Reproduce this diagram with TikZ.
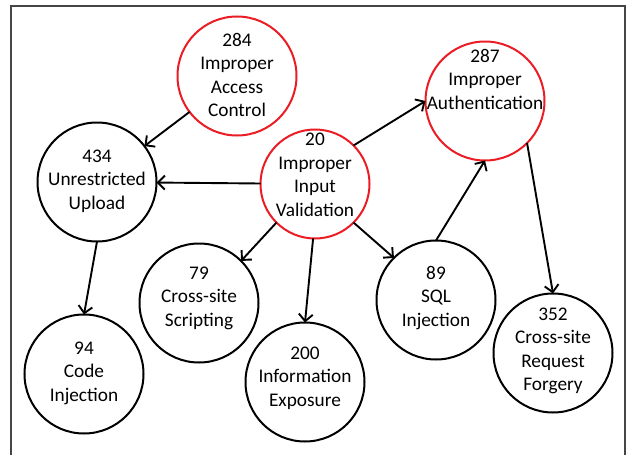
\documentclass[tikz,border=0pt]{standalone}
\usepackage{fontspec}
\setmainfont{Carlito}
\usetikzlibrary{arrows.meta}
\definecolor{bubred}{RGB}{235,28,36}
\definecolor{framegray}{RGB}{70,70,70}
\begin{document}
\begin{tikzpicture}[x=1pt,y=-1pt,
  bub/.style={circle,draw=#1,line width=2pt,minimum size=119pt,inner sep=0pt,outer sep=0pt},
  lbl/.style={align=center,font=\fontsize{19.3}{23.5}\selectfont,inner sep=0pt},
  link/.style={line width=1.9pt,-{Straight Barb[length=7pt,width=14pt]}}
]
\useasboundingbox (0,0) rectangle (627,455);
% open frame around the graph
\draw[line width=1.2pt,framegray] (11,455) -- (11,6) -- (625,6) -- (625,455);

% weakness bubbles
\node[bub=bubred] (n284) at (237,76) {};
\node[bub=black]  (n434) at (97,182) {};
\node[bub=bubred,minimum size=109pt] (n20) at (315,184) {};
\node[bub=bubred] (n287) at (485,101) {};
\node[bub=black]  (n79)  at (199,303) {};
\node[bub=black]  (n94)  at (84,374) {};
\node[bub=black]  (n200) at (305,382) {};
\node[bub=black]  (n89)  at (436,300) {};
\node[bub=black]  (n352) at (553,353) {};

% captions
\node[lbl] (t284) at ([yshift=1pt]n284.center) {284\\Improper\\Access\\Control};
\node[lbl] (t434) at ([yshift=1pt]n434.center) {434\\Unrestricted\\Upload};
\node[lbl] (t20)  at ([yshift=9pt]n20.center)  {20\\Improper\\Input\\Validation};
\node[lbl] (t287) at ([yshift=22pt]n287.center) {287\\Improper\\Authentication};
\node[lbl] (t79)  at ([yshift=5pt]n79.center)  {79\\Cross-site\\Scripting};
\node[lbl] (t94)  at ([yshift=1pt]n94.center)  {94\\Code\\Injection};
\node[lbl] (t200) at ([yshift=4pt]n200.center) {200\\Information\\Exposure};
\node[lbl] (t89)  at ([yshift=2pt]n89.center)  {89\\SQL\\Injection};
\node[lbl] (t352) at ([yshift=2pt]n352.center) {352\\Cross-site\\Request\\Forgery};

% relations
\draw[link] (n284) -- (n434);
\draw[link] (n20) -- (n434);
\draw[link] (n20.45) -- (n287.west);
\draw[link] (n20.225) -- (n79.45);
\draw[link] (n20.268) -- (n200.north);
\draw[link] (n20.-45) -- (n89.135);
\draw[link] (n89.north) -- (n287.south);
\draw[link] (n287.-45) -- (n352.north);
\draw[link] (n434.south) -- (n94.north);
\end{tikzpicture}
\end{document}
